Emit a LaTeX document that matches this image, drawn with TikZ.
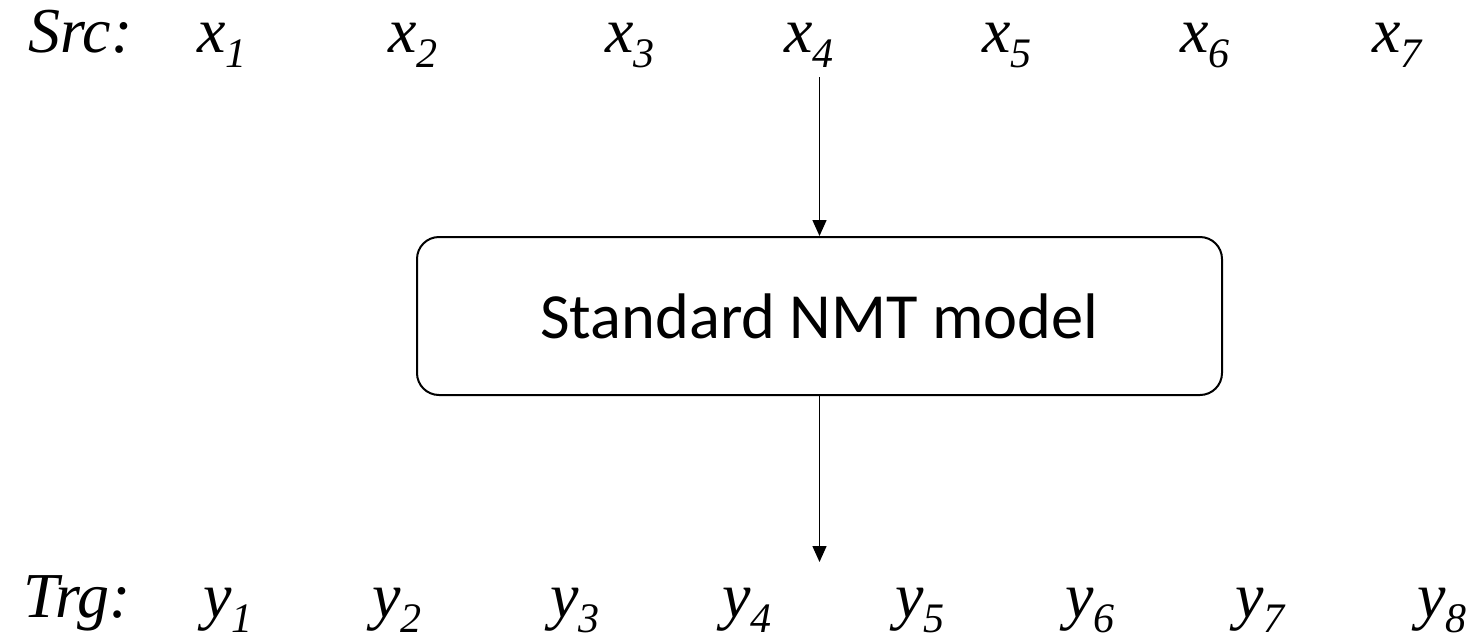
\documentclass[tikz,border=0pt]{standalone}
\usepackage{fontspec}
\setmainfont{Liberation Serif}
\newfontfamily\boxfont{Carlito}
\usetikzlibrary{arrows.meta}

% token with italic subscript
\newcommand{\tokn}[2]{#1\raisebox{-7.5pt}{\fontsize{21}{21}\selectfont #2}}

\tikzset{
  lbl/.style={inner sep=0pt,anchor=base west,font=\fontsize{32}{32}\selectfont\itshape},
  modelbox/.style={draw,line width=1pt,rounded corners=11pt,minimum width=402.5pt,
    minimum height=79pt,inner sep=0pt,font=\fontsize{32.2}{32.2}\selectfont\boxfont},
  arr/.style={line width=0.75pt,-{Triangle[length=8pt,width=7pt]}}
}

\begin{document}
\begin{tikzpicture}[x=0.5pt,y=-0.5pt]
			\useasboundingbox (0,0) rectangle (1480,638);

			% source sentence
			\node[lbl] (src) at (28,52) {Src:};
			\foreach \i/\px in {1/197,2/388,3/605,4/784,5/982,6/1180,7/1372}
				\node[lbl] (x\i) at (\px,52) {\tokn{x}{\i}};

			% model
			\node[modelbox] (model) at (819.5,316) {Standard NMT model};

			% target sentence
			\node[lbl] (trg) at (23,617) {Trg:};
			\foreach \i/\px in {1/203,2/372,3/550,4/722,5/895,6/1065,7/1235,8/1417}
				\node[lbl] (y\i) at (\px,617) {\tokn{y}{\i}};

			% arrows
			\coordinate (ytip) at (819.5,562);
			\draw[arr] ([yshift=-5pt]x4.south -| model.north) -- (model.north);
			\draw[arr] (model.south) -- (ytip);
\end{tikzpicture}
\end{document}
